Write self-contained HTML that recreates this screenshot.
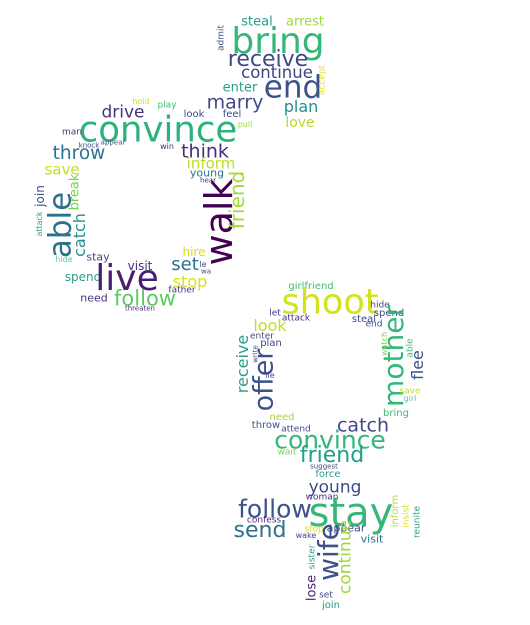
<!DOCTYPE html>
<html><head><meta charset="utf-8"><style>
html,body{margin:0;padding:0;background:#fff}
#c{position:relative;width:530px;height:625px;overflow:hidden;background:#fff;font-family:"DejaVu Sans","Liberation Sans",sans-serif}
.w{position:absolute;transform:translate(-50%,-50%);white-space:nowrap;line-height:1}
.v{transform:translate(-50%,-50%) rotate(-90deg)}
</style></head><body>
<div id="c">
<span class="w" style="left:278px;top:42px;font-size:36px;color:#35b779">bring</span>
<span class="w" style="left:257px;top:22px;font-size:13px;color:#2a9a8a">steal</span>
<span class="w" style="left:305px;top:22px;font-size:13px;color:#a0da39">arrest</span>
<span class="w v" style="left:222px;top:38px;font-size:9px;color:#46508a">admit</span>
<span class="w" style="left:268px;top:60px;font-size:22px;color:#3e4989">receive</span>
<span class="w" style="left:277px;top:73px;font-size:16.5px;color:#414487">continue</span>
<span class="w" style="left:293px;top:88px;font-size:31px;color:#3b528b">end</span>
<span class="w v" style="left:323px;top:80px;font-size:9px;color:#e5e419">accept</span>
<span class="w" style="left:240px;top:88px;font-size:13px;color:#2a9d8a">enter</span>
<span class="w" style="left:301px;top:107px;font-size:16px;color:#21918c">plan</span>
<span class="w" style="left:235px;top:103px;font-size:19px;color:#3e4a89">marry</span>
<span class="w" style="left:300px;top:123px;font-size:14px;color:#b5de2b">love</span>
<span class="w" style="left:123px;top:113px;font-size:17px;color:#46337e">drive</span>
<span class="w" style="left:141px;top:102px;font-size:8px;color:#d8e219">hold</span>
<span class="w" style="left:167px;top:106px;font-size:9px;color:#3fbc73">play</span>
<span class="w" style="left:194px;top:115px;font-size:10px;color:#3e4989">look</span>
<span class="w" style="left:232px;top:115px;font-size:10px;color:#3e4989">feel</span>
<span class="w" style="left:245px;top:125px;font-size:8px;color:#a0da39">pull</span>
<span class="w" style="left:158px;top:130px;font-size:35.5px;color:#2db27d">convince</span>
<span class="w" style="left:72px;top:133px;font-size:9px;color:#46337e">man</span>
<span class="w" style="left:89px;top:146px;font-size:7px;color:#3e4989">knock</span>
<span class="w" style="left:113px;top:143px;font-size:7px;color:#3e4989">appear</span>
<span class="w" style="left:167px;top:147px;font-size:8px;color:#472d7b">win</span>
<span class="w" style="left:205px;top:152px;font-size:19px;color:#472d7b">think</span>
<span class="w" style="left:79px;top:154px;font-size:18.5px;color:#2c728e">throw</span>
<span class="w" style="left:211px;top:164px;font-size:15px;color:#bade28">inform</span>
<span class="w" style="left:62px;top:170px;font-size:15px;color:#c2df23">save</span>
<span class="w" style="left:207px;top:173px;font-size:11px;color:#2c728e">young</span>
<span class="w" style="left:208px;top:181px;font-size:7px;color:#472d7b">hear</span>
<span class="w v" style="left:75px;top:192px;font-size:13px;color:#7ad151">break</span>
<span class="w v" style="left:40px;top:196px;font-size:12px;color:#3b528b">join</span>
<span class="w v" style="left:40px;top:224px;font-size:8px;color:#2a9d8a">attack</span>
<span class="w v" style="left:61px;top:225px;font-size:31px;color:#2c728e">able</span>
<span class="w v" style="left:80px;top:235px;font-size:16px;color:#21918c">catch</span>
<span class="w v" style="left:219px;top:222px;font-size:38px;color:#440154">walk</span>
<span class="w v" style="left:237px;top:200px;font-size:20px;color:#a5db36">friend</span>
<span class="w" style="left:64px;top:260px;font-size:8px;color:#5ec9a0">hide</span>
<span class="w" style="left:98px;top:257px;font-size:11px;color:#3e4989">stay</span>
<span class="w" style="left:194px;top:252px;font-size:12px;color:#d8e219">hire</span>
<span class="w" style="left:140px;top:266px;font-size:12px;color:#472d7b">visit</span>
<span class="w" style="left:185px;top:265px;font-size:18px;color:#2c728e">set</span>
<span class="w" style="left:203px;top:265px;font-size:8px;color:#3e4989">le</span>
<span class="w" style="left:206px;top:272px;font-size:7px;color:#3e4989">wa</span>
<span class="w" style="left:83px;top:277px;font-size:12px;color:#2a9d8a">spend</span>
<span class="w" style="left:127px;top:279px;font-size:36px;color:#481f70">live</span>
<span class="w" style="left:190px;top:282px;font-size:16px;color:#d8e219">stop</span>
<span class="w" style="left:94px;top:298px;font-size:11px;color:#46337e">need</span>
<span class="w" style="left:145px;top:299px;font-size:21px;color:#5ec962">follow</span>
<span class="w" style="left:182px;top:291px;font-size:9px;color:#46337e">father</span>
<span class="w" style="left:140px;top:309px;font-size:7px;color:#472d7b">threaten</span>

<span class="w" style="left:311px;top:287px;font-size:10px;color:#3fbc73">girlfriend</span>
<span class="w" style="left:330px;top:303px;font-size:35px;color:#d2e21b">shoot</span>
<span class="w" style="left:380px;top:306px;font-size:9px;color:#3e4989">hide</span>
<span class="w" style="left:389px;top:314px;font-size:10px;color:#3e4989">spend</span>
<span class="w" style="left:275px;top:314px;font-size:9px;color:#46337e">let</span>
<span class="w" style="left:296px;top:319px;font-size:9px;color:#472d7b">attack</span>
<span class="w" style="left:364px;top:320px;font-size:10px;color:#3e4989">steal</span>
<span class="w" style="left:270px;top:326px;font-size:16px;color:#c2df23">look</span>
<span class="w" style="left:374px;top:325px;font-size:9px;color:#3b528b">end</span>
<span class="w v" style="left:394px;top:356px;font-size:28px;color:#35b779">mother</span>
<span class="w" style="left:262px;top:337px;font-size:9px;color:#3e4989">enter</span>
<span class="w" style="left:271px;top:344px;font-size:10px;color:#3e4989">plan</span>
<span class="w v" style="left:385px;top:344px;font-size:8px;color:#7ad151">watch</span>
<span class="w v" style="left:411px;top:348px;font-size:9px;color:#3fbc73">able</span>
<span class="w v" style="left:256px;top:354px;font-size:7px;color:#3e4989">write</span>
<span class="w v" style="left:243px;top:364px;font-size:16px;color:#2a9d8a">receive</span>
<span class="w v" style="left:264px;top:380px;font-size:27px;color:#3b528b">offer</span>
<span class="w v" style="left:418px;top:365px;font-size:16px;color:#3b528b">flee</span>
<span class="w" style="left:270px;top:376px;font-size:8px;color:#3e4989">lie</span>
<span class="w" style="left:410px;top:392px;font-size:9px;color:#c2df23">save</span>
<span class="w" style="left:410px;top:399px;font-size:8px;color:#5ec9a0">girl</span>
<span class="w" style="left:396px;top:414px;font-size:10px;color:#3fbc73">bring</span>
<span class="w" style="left:282px;top:418px;font-size:10px;color:#a0da39">need</span>
<span class="w" style="left:363px;top:426px;font-size:19px;color:#3e4989">catch</span>
<span class="w" style="left:266px;top:426px;font-size:10px;color:#3b528b">throw</span>
<span class="w" style="left:296px;top:430px;font-size:9px;color:#3e4989">attend</span>
<span class="w" style="left:330px;top:440px;font-size:25px;color:#35b779">convince</span>
<span class="w" style="left:332px;top:456px;font-size:22px;color:#1f9e89">friend</span>
<span class="w" style="left:287px;top:453px;font-size:9px;color:#7ad151">wait</span>
<span class="w" style="left:324px;top:467px;font-size:7px;color:#3e4989">suggest</span>
<span class="w" style="left:328px;top:475px;font-size:10px;color:#2a9d8a">force</span>
<span class="w" style="left:335px;top:488px;font-size:17px;color:#3e4989">young</span>
<span class="w" style="left:322px;top:498px;font-size:9px;color:#472d7b">woman</span>
<span class="w" style="left:275px;top:509px;font-size:25px;color:#3b528b">follow</span>
<span class="w" style="left:351px;top:513px;font-size:40px;color:#35b779">stay</span>
<span class="w" style="left:260px;top:531px;font-size:22px;color:#2c728e">send</span>
<span class="w" style="left:264px;top:521px;font-size:9px;color:#472d7b">confess</span>
<span class="w" style="left:314px;top:530px;font-size:9px;color:#d8e219">stop</span>
<span class="w" style="left:306px;top:536px;font-size:8px;color:#3e4989">wake</span>
<span class="w" style="left:346px;top:528px;font-size:11px;color:#3e4989">appear</span>
<span class="w" style="left:372px;top:539px;font-size:11px;color:#2c728e">visit</span>
<span class="w v" style="left:396px;top:511px;font-size:10px;color:#bade28">inform</span>
<span class="w v" style="left:407px;top:516px;font-size:9px;color:#d8e219">insist</span>
<span class="w v" style="left:418px;top:522px;font-size:9px;color:#2a9d8a">reunite</span>
<span class="w v" style="left:329px;top:552px;font-size:28px;color:#3b528b">wife</span>
<span class="w v" style="left:346px;top:557px;font-size:17px;color:#a0da39">continue</span>
<span class="w v" style="left:313px;top:557px;font-size:9px;color:#2a9d8a">sister</span>
<span class="w v" style="left:312px;top:588px;font-size:13px;color:#481f70">lose</span>
<span class="w" style="left:326px;top:596px;font-size:9px;color:#3e4989">set</span>
<span class="w" style="left:331px;top:606px;font-size:10px;color:#2a9d8a">join</span>
</div>
</body></html>
